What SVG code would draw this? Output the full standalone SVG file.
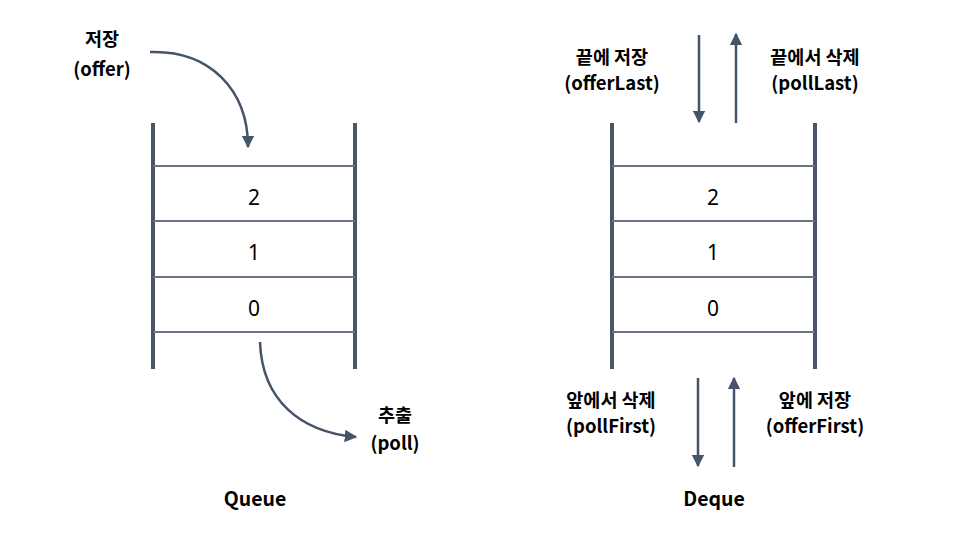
<svg xmlns="http://www.w3.org/2000/svg" width="956" height="547" viewBox="0 0 956 547">
<style>
.wall{stroke:#4a5568;stroke-width:4;fill:none}
.row{stroke:#6b7584;stroke-width:2;fill:none}
.arr{stroke:#44546a;stroke-width:2.5;fill:none}
.lbl{font-family:"Noto Sans CJK KR","Noto Sans",sans-serif;font-weight:bold;font-size:18.5px;fill:#000;text-anchor:middle}
.num{font-family:"Noto Sans","Liberation Sans",sans-serif;font-size:21px;fill:#000;text-anchor:middle}
</style>
<defs>
<marker id="ah" viewBox="0 0 10 10" refX="9" refY="5" markerWidth="5" markerHeight="5" markerUnits="strokeWidth" orient="auto">
<path d="M0,0 L10,5 L0,10 z" fill="#44546a"/>
</marker>
</defs>
<rect width="956" height="547" fill="#fff"/>
<g id="queue">
<line class="wall" x1="153" y1="123" x2="153" y2="369"/>
<line class="wall" x1="355" y1="123" x2="355" y2="369"/>
<line class="row" x1="153" y1="166" x2="355" y2="166"/>
<line class="row" x1="153" y1="221" x2="355" y2="221"/>
<line class="row" x1="153" y1="277" x2="355" y2="277"/>
<line class="row" x1="153" y1="332" x2="355" y2="332"/>
<text class="num" x="254" y="205">2</text>
<text class="num" x="254" y="260">1</text>
<text class="num" x="254" y="316">0</text>
<text class="lbl" x="255" y="506" style="font-size:19.5px">Queue</text>
</g>
<g id="deque">
<line class="wall" x1="612" y1="123" x2="612" y2="369"/>
<line class="wall" x1="815" y1="123" x2="815" y2="369"/>
<line class="row" x1="612" y1="166" x2="815" y2="166"/>
<line class="row" x1="612" y1="221" x2="815" y2="221"/>
<line class="row" x1="612" y1="277" x2="815" y2="277"/>
<line class="row" x1="612" y1="332" x2="815" y2="332"/>
<text class="num" x="713" y="205">2</text>
<text class="num" x="713" y="260">1</text>
<text class="num" x="713" y="316">0</text>
<text class="lbl" x="714" y="506" style="font-size:19.5px">Deque</text>
</g>
<g id="labels">
<text class="lbl" x="102" y="46">저장</text>
<text class="lbl" x="102" y="76">(offer)</text>
<text class="lbl" x="395" y="422">추출</text>
<text class="lbl" x="395" y="450">(poll)</text>
<text class="lbl" x="612" y="64">끝에 저장</text>
<text class="lbl" x="612" y="90">(offerLast)</text>
<text class="lbl" x="815" y="64">끝에서 삭제</text>
<text class="lbl" x="815" y="90">(pollLast)</text>
<text class="lbl" x="611" y="407">앞에서 삭제</text>
<text class="lbl" x="611" y="433">(pollFirst)</text>
<text class="lbl" x="815" y="407">앞에 저장</text>
<text class="lbl" x="815" y="433">(offerFirst)</text>
</g>
<g id="connectors">
<path class="arr" d="M150,52 C210,50 248,90 248,147" marker-end="url(#ah)"/>
<path class="arr" d="M260,342 C262,400 300,432 356,437" marker-end="url(#ah)"/>
<line class="arr" x1="699" y1="35" x2="699" y2="122" marker-end="url(#ah)"/>
<line class="arr" x1="736" y1="123" x2="736" y2="34" marker-end="url(#ah)"/>
<line class="arr" x1="698" y1="378" x2="698" y2="466" marker-end="url(#ah)"/>
<line class="arr" x1="734" y1="467" x2="734" y2="378" marker-end="url(#ah)"/>
</g>
</svg>
